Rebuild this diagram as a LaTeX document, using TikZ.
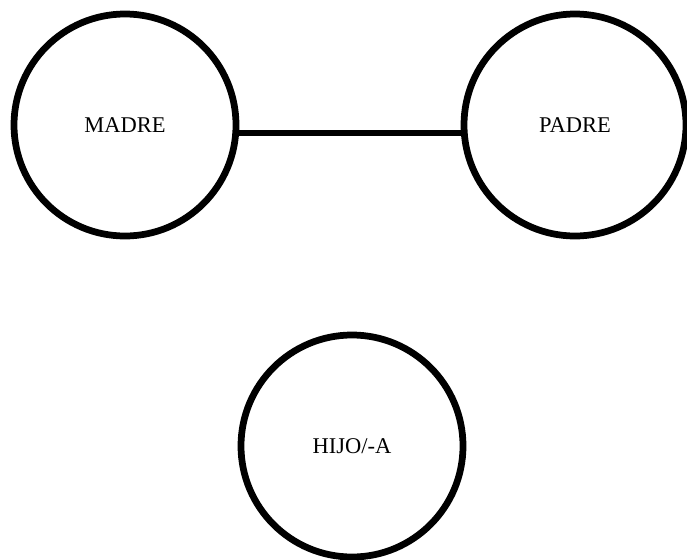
\documentclass[tikz,border=0pt]{standalone}
\usepackage{fontspec}
\setmainfont{Liberation Serif}
\usetikzlibrary{positioning}

\begin{document}
\begin{tikzpicture}[node distance=11.25cm,
  persona/.style={circle, draw, line width=4.8pt, minimum size=5.55cm, inner sep=0pt, font=\fontsize{16}{19}\selectfont}]
\useasboundingbox (-3.125,3.125) rectangle (14.05,-10.875);
%Personen
\node (madre) [persona] {MADRE};
\node (padre) [persona, right of= madre] {PADRE};
\node (hijo) [persona, below of= madre, node distance=8.025cm, xshift=5.675cm] {HIJO/-A};

%Verbindung
\draw[line width=3.8pt] (madre.-4) -- (padre.184);
\end{tikzpicture}
\end{document}
